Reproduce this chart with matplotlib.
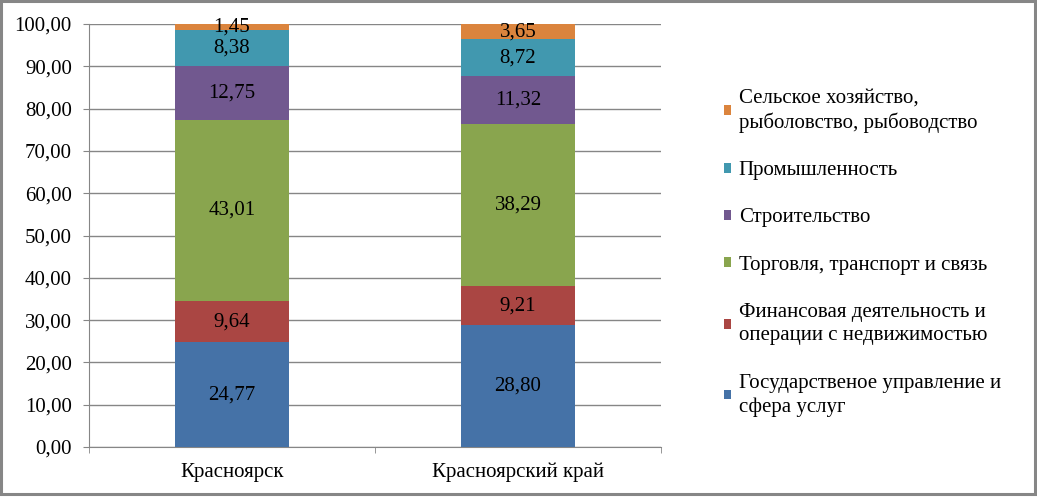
import numpy as np
import matplotlib
matplotlib.use('Agg')
from matplotlib import pyplot as plt
from matplotlib.patches import Rectangle

plt.rcParams['font.family'] = ['Liberation Serif', 'DejaVu Serif']
plt.rcParams['font.size'] = 15

# categories and series, bottom of stack first
places = ['Красноярск', 'Красноярский край']
series = ['Государственое управление и\nсфера услуг',
          'Финансовая деятельность и\nоперации с недвижимостью',
          'Торговля, транспорт и связь',
          'Строительство',
          'Промышленность',
          'Сельское хозяйство,\nрыболовство, рыбоводство']
gov   = [24.77, 28.80]
fin   = [9.64, 9.21]
trade = [43.01, 38.29]
build = [12.75, 11.32]
ind   = [8.38, 8.72]
agro  = [1.45, 3.65]
colors = ['#4572A7', '#AA4643', '#89A54E', '#71588F', '#4198AF', '#DB843D']

values = [gov, fin, trade, build, ind, agro]

def fmt(v):
    return ('%.2f' % v).replace('.', ',')

fig = plt.figure(figsize=(10.37, 4.98), dpi=100)
ax = fig.add_axes([0.0858, 0.1024, 0.5516, 0.8494])

x = np.arange(len(places))
bottom = np.zeros(len(places))
for vals, name, col in zip(values, series, colors):
    ax.bar(x, vals, 0.4, bottom=bottom, color=col, label=name, zorder=3)
    for xi, v, bt in zip(x, vals, bottom):
        ax.text(xi, bt + v / 2, fmt(v), ha='center', va='center',
                fontsize=15, zorder=4)
    bottom += np.array(vals)

ax.set_xlim(-0.5, 1.5)
ax.set_ylim(0, 100)
ax.set_yticks(np.arange(0, 101, 10))
ax.set_yticklabels([fmt(t) for t in np.arange(0, 101, 10)])
ax.set_xticks(x)
ax.set_xticklabels(places)
ax.set_xticks([-0.5, 0.5, 1.5], minor=True)
ax.tick_params(axis='x', which='major', length=0, pad=11.5)
ax.tick_params(axis='x', which='minor', length=4.3, color='#868686')
ax.tick_params(axis='y', length=4.3, color='#868686', pad=8)
ax.grid(axis='y', color='#868686', lw=1, zorder=0)
for s in ['top', 'right']:
    ax.spines[s].set_visible(False)
for s in ['left', 'bottom']:
    ax.spines[s].set_color('#868686')

h, l = ax.get_legend_handles_labels()
leg = fig.legend(h[::-1], l[::-1], loc='upper left', bbox_to_anchor=(0.698, 0.822),
                 frameon=False, borderpad=0, borderaxespad=0,
                 handlelength=0.34, handleheight=0.34,
                 handletextpad=0.38, labelspacing=1.36, fontsize=15)
for t in leg.get_texts():
    t.set_linespacing(1.3)

fig.patches.append(Rectangle((0.0014, 0.009), 0.9962, 0.988, transform=fig.transFigure,
                             fill=False, edgecolor='#868686', lw=2.2))

fig.savefig('out.png', dpi=100)
